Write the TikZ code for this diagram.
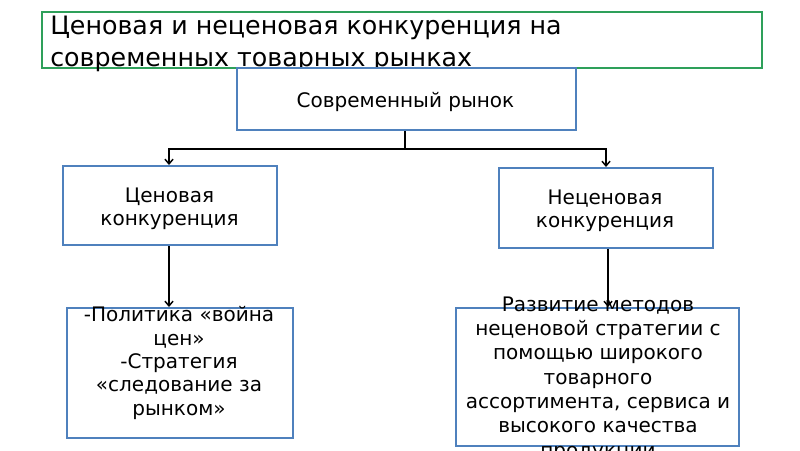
\documentclass[tikz,border=0pt]{standalone}
\usepackage{fontspec}
\setmainfont{DejaVu Sans}
\usetikzlibrary{arrows.meta}
\definecolor{boxblue}{HTML}{4F81BD}
\definecolor{titlegreen}{HTML}{2EA05A}
\tikzset{
  box/.style={draw=boxblue, line width=1.5pt, fill=white, inner sep=0pt},
  titlebox/.style={draw=titlegreen, line width=1.5pt, inner sep=0pt},
  txt/.style={font=\fontsize{15pt}{18pt}\selectfont, align=center, inner sep=0pt, anchor=base},
  conn/.style={line width=1.1pt, -{Straight Barb[length=3.5pt,width=6pt]}}
}
\begin{document}
\begin{tikzpicture}[x=0.75pt,y=-0.75pt]
\useasboundingbox (0,0) rectangle (800,450);
\fill[white] (0,0) rectangle (800,450);
% title
\node[titlebox, minimum width=540pt, minimum height=42pt] (title) at (402,40) {};
\node[anchor=base west, inner sep=0pt, align=left,
      font=\fontsize{19pt}{24pt}\selectfont] (titletext) at (50,66)
  {Ценовая и неценовая конкуренция на\\современных товарных рынках};
% boxes
\node[box, minimum width=254.25pt, minimum height=46.5pt] (market) at (406.5,99) {};
\node[box, minimum width=160.5pt, minimum height=59.25pt] (lm) at (170,205.5) {};
\node[box, minimum width=160.5pt, minimum height=60pt] (rm) at (606,208) {};
\node[box, minimum width=169.5pt, minimum height=97.5pt] (lb) at (180,373) {};
\node[box, minimum width=212.25pt, minimum height=103.5pt] (rb) at (597.5,377) {};
% texts
\node[txt] (markettext) at (405.5,107) {Современный рынок};
\node[txt, font=\fontsize{15pt}{17.25pt}\selectfont] (lmtext) at (169.5,225) {Ценовая\\конкуренция};
\node[txt, font=\fontsize{15pt}{17.25pt}\selectfont] (rmtext) at (605,227) {Неценовая\\конкуренция};
% connectors
\coordinate (split) at (405,149);
\coordinate (lcol) at (169,0);
\coordinate (rcol) at (606,0);
\coordinate (rcolb) at (608,0);
\draw[line width=1.3pt] (market.south -| split) -- (split);
\draw[conn] (split) -| (lm.north -| lcol);
\draw[conn] (split) -| (rm.north -| rcol);
\draw[conn] (lm.south -| lcol) -- (lb.north -| lcol);
\draw[conn] (rm.south -| rcolb) -- (rb.north -| rcolb);
% bottom texts
\node[txt, font=\fontsize{15pt}{17.5pt}\selectfont] (lbtext) at (179,415)
  {-Политика «война\\цен»\\-Стратегия\\«следование за\\рынком»};
\node[txt, font=\fontsize{15pt}{18.2pt}\selectfont] (rbtext) at (598,457)
  {Развитие методов\\неценовой стратегии с\\помощью широкого\\товарного\\ассортимента, сервиса и\\высокого качества\\продукции};
\end{tikzpicture}
\end{document}
